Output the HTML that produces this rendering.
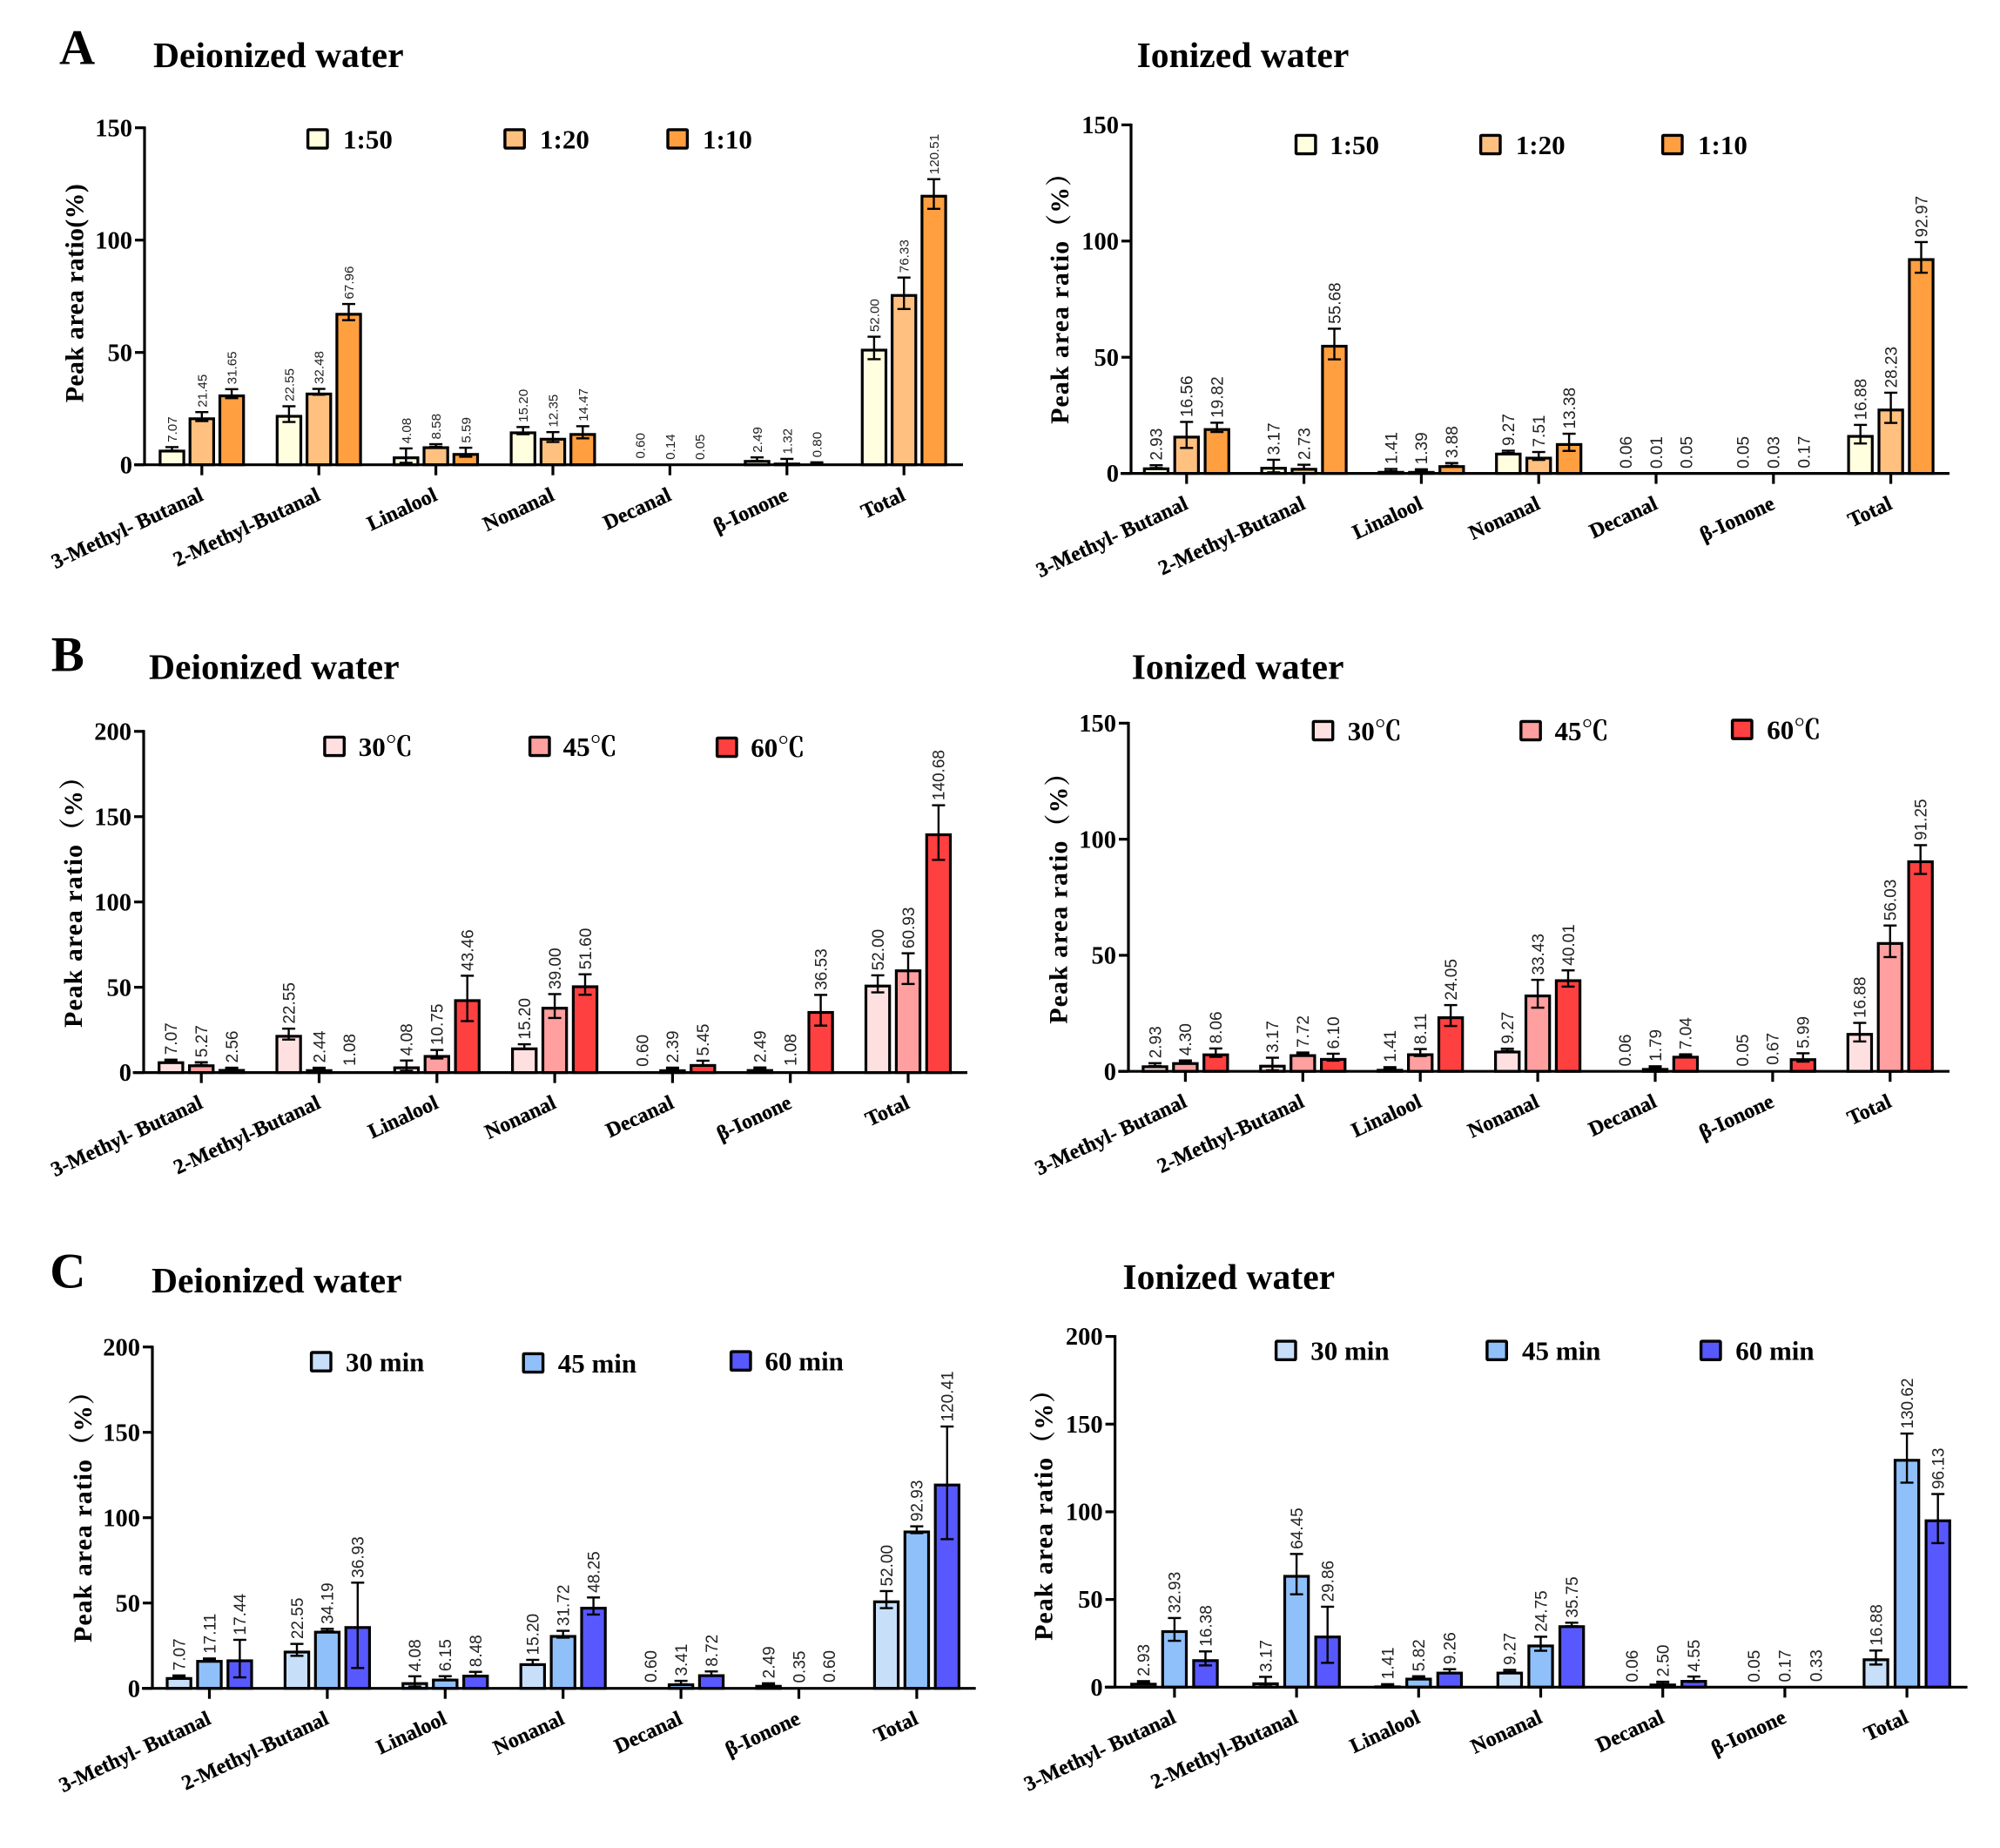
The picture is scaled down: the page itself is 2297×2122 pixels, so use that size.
<!DOCTYPE html>
<html lang="en">
<head>
<meta charset="utf-8">
<title>Peak area ratio charts</title>
<style>
html,body{margin:0;padding:0;background:#fff;}
svg{display:block;position:absolute;left:0;top:0;}
text{font-family:"Liberation Serif","Noto Serif CJK SC",serif;}
</style>
</head>
<body>
<svg id="figure" xmlns="http://www.w3.org/2000/svg" width="2297" height="2122" viewBox="0 0 2297 2122">
<rect x="0" y="0" width="2297" height="2122" fill="#ffffff"/>
<text x="68" y="73.7" font-size="57" font-weight="bold">A</text>
<text x="58.7" y="770.6" font-size="57" font-weight="bold">B</text>
<text x="57.2" y="1478.3" font-size="57" font-weight="bold">C</text>
</svg>
<script>
const categories = ['3-Methyl- Butanal','2-Methyl-Butanal','Linalool','Nonanal','Decanal','β-Ionone','Total'];
const ticks150 = [0,50,100,150];
const ticks200 = [0,50,100,150,200];
const legendRatio = ['1:50','1:20','1:10'];
const legendTemp = ['30℃','45℃','60℃'];
const legendTime = ['30 min','45 min','60 min'];
const colorsRatio = ['#ffffe0','#ffc080','#ff9f40'];
const colorsTemp = ['#ffe0e0','#ff9f9f','#ff4040'];
const colorsTime = ['#c8dffa','#90c0fa','#5858ff'];

const aDeionLow = [7.07,22.55,4.08,15.20,0.60,2.49,52.00];
const aDeionMid = [21.45,32.48,8.58,12.35,0.14,1.32,76.33];
const aDeionHigh = [31.65,67.96,5.59,14.47,0.05,0.80,120.51];
const aDeionLowErr = [0.8,3.5,3.2,1.6,0,0.8,5];
const aDeionMidErr = [2,1.3,0.6,2.2,0,1.3,7];
const aDeionHighErr = [2,3.6,2,2.7,0,0.3,6.6];

const aIonLow = [2.93,3.17,1.41,9.27,0.06,0.05,16.88];
const aIonMid = [16.56,2.73,1.39,7.51,0.01,0.03,28.23];
const aIonHigh = [19.82,55.68,3.88,13.38,0.05,0.17,92.97];
const aIonLowErr = [0.6,2.7,0.5,0.5,0,0,4];
const aIonMidErr = [5.6,1,0.4,1.7,0,0,6.5];
const aIonHighErr = [2,6.6,0.6,3.7,0,0,6.6];

const bDeionLow = [7.07,22.55,4.08,15.20,0.60,2.49,52.00];
const bDeionMid = [5.27,2.44,10.75,39.00,2.39,1.08,60.93];
const bDeionHigh = [2.56,1.08,43.46,51.60,5.45,36.53,140.68];
const bDeionLowErr = [0.5,3.2,3,1.4,0,0.5,5];
const bDeionMidErr = [0.8,0.4,2.5,7,0.5,0,9];
const bDeionHighErr = [0.3,0,13.3,6,1.5,9,16];

const bIonLow = [2.93,3.17,1.41,9.27,0.06,0.05,16.88];
const bIonMid = [4.30,7.72,8.11,33.43,1.79,0.67,56.03];
const bIonHigh = [8.06,6.10,24.05,40.01,7.04,5.99,91.25];
const bIonLowErr = [0.6,2.7,0.4,0.5,0,0,4];
const bIonMidErr = [0.4,0.4,1.5,6,0.4,0,6.8];
const bIonHighErr = [1.8,1.5,4.5,3.5,0.3,1.8,6.2];

const cDeionLow = [7.07,22.55,4.08,15.20,0.60,2.49,52.00];
const cDeionMid = [17.11,34.19,6.15,31.72,3.41,0.35,92.93];
const cDeionHigh = [17.44,36.93,8.48,48.25,8.72,0.60,120.41];
const cDeionLowErr = [0.5,3.5,3,1.5,0,0.5,5];
const cDeionMidErr = [0.4,0.7,1,2,1,0,2];
const cDeionHighErr = [11,25,1.2,5,1.2,0,33];

const cIonLow = [2.93,3.17,1.41,9.27,0.06,0.05,16.88];
const cIonMid = [32.93,64.45,5.82,24.75,2.50,0.17,130.62];
const cIonHigh = [16.38,29.86,9.26,35.75,4.55,0.33,96.13];
const cIonLowErr = [0.5,2.7,0.3,0.6,0,0,4];
const cIonMidErr = [6.5,11.5,0.4,4,0.6,0,14];
const cIonHighErr = [4,16,1,1,1.5,0,14];

const panels = [
 {id:'a-deionized',title:'Deionized water',tx:176,ty:76.8,yTitle:'Peak area ratio(%)',ytx:95.4,yty:462.3,ls:0.3,
  axisX:166,top:146.7,base:533.7,x0:231.8,step:134.4,barStep:34.3,lineL:154,lineR:1106,max:150,ticks:ticks150,labelSize:15.2,
  series:[aDeionLow,aDeionMid,aDeionHigh],errs:[aDeionLowErr,aDeionMidErr,aDeionHighErr],colors:colorsRatio,names:legendRatio,
  legend:[{sx:352,tx:394,cy:159.5},{sx:578.3,tx:620,cy:159.5},{sx:765.4,tx:807,cy:159.5}]},
 {id:'a-ionized',title:'Ionized water',tx:1305.6,ty:76.8,yTitle:'Peak area ratio（%）',ytx:1227,yty:486.9,ls:1,
  axisX:1299,top:143.4,base:543.6,x0:1362.8,step:134.8,barStep:34.9,lineL:1287,lineR:2239,max:150,ticks:ticks150,labelSize:19,
  series:[aIonLow,aIonMid,aIonHigh],errs:[aIonLowErr,aIonMidErr,aIonHighErr],colors:colorsRatio,names:legendRatio,
  legend:[{sx:1486.9,tx:1527.2,cy:166},{sx:1699,tx:1740.8,cy:166},{sx:1908,tx:1950,cy:166}]},
 {id:'b-deionized',title:'Deionized water',tx:171,ty:779.5,yTitle:'Peak area ratio（%）',ytx:94,yty:1180,ls:1,
  axisX:165,top:839.8,base:1231.6,x0:231.2,step:135.3,barStep:34.9,lineL:152.6,lineR:1111,max:200,ticks:ticks200,labelSize:19,
  series:[bDeionLow,bDeionMid,bDeionHigh],errs:[bDeionLowErr,bDeionMidErr,bDeionHighErr],colors:colorsTemp,names:legendTemp,
  legend:[{sx:371.3,tx:411.7,cy:857},{sx:607,tx:646.6,cy:857},{sx:822,tx:862.3,cy:858}]},
 {id:'b-ionized',title:'Ionized water',tx:1299.7,ty:779.5,yTitle:'Peak area ratio（%）',ytx:1225.6,yty:1175.7,ls:1,
  axisX:1296,top:830.4,base:1230.2,x0:1361.4,step:134.9,barStep:34.9,lineL:1284.3,lineR:2239,max:150,ticks:ticks150,labelSize:19,
  series:[bIonLow,bIonMid,bIonHigh],errs:[bIonLowErr,bIonMidErr,bIonHighErr],colors:colorsTemp,names:legendTemp,
  legend:[{sx:1506.7,tx:1547.8,cy:839},{sx:1745.2,tx:1785.5,cy:839},{sx:1988,tx:2029.2,cy:837.6}]},
 {id:'c-deionized',title:'Deionized water',tx:174,ty:1483.9,yTitle:'Peak area ratio（%）',ytx:105,yty:1886,ls:1,
  axisX:175,top:1546.7,base:1938.7,x0:240.5,step:135.4,barStep:34.9,lineL:163,lineR:1120.7,max:200,ticks:ticks200,labelSize:19,
  series:[cDeionLow,cDeionMid,cDeionHigh],errs:[cDeionLowErr,cDeionMidErr,cDeionHighErr],colors:colorsTime,names:legendTime,
  legend:[{sx:356,tx:397,cy:1563.6},{sx:599.6,tx:640.7,cy:1565},{sx:838,tx:878.5,cy:1562.7}]},
 {id:'c-ionized',title:'Ionized water',tx:1289.4,ty:1480.2,yTitle:'Peak area ratio（%）',ytx:1208.7,yty:1883.9,ls:1,
  axisX:1280.6,top:1534.6,base:1937.3,x0:1348.9,step:140.2,barStep:35.6,lineL:1268.9,lineR:2259.6,max:200,ticks:ticks200,labelSize:19,
  series:[cIonLow,cIonMid,cIonHigh],errs:[cIonLowErr,cIonMidErr,cIonHighErr],colors:colorsTime,names:legendTime,
  legend:[{sx:1464,tx:1505.2,cy:1550.7},{sx:1706.3,tx:1748,cy:1550.7},{sx:1952,tx:1993.2,cy:1550.7}]}
];

const NS = 'http://www.w3.org/2000/svg';
const svg = document.getElementById('figure');

function make(tag, parent, props, content) {
  const el = document.createElementNS(NS, tag);
  for (const k in props) el.setAttribute(k, props[k]);
  if (content !== undefined) el.textContent = content;
  parent.appendChild(el);
  return el;
}
function strokeLine(parent, x1, y1, x2, y2, w) {
  return make('line', parent, {x1:x1, y1:y1, x2:x2, y2:y2, stroke:'#000', 'stroke-width':w});
}
function slug(s) {
  return s.toLowerCase().replace(/[^a-z0-9]+/g, '-').replace(/^-|-$/g, '');
}

panels.forEach(function (p) {
  const yScale = function (v) { return p.base - v / p.max * (p.base - p.top); };
  const xCat = function (i) { return p.x0 + i * p.step; };
  const xBar = function (i, s) { return xCat(i) + (s - 1) * p.barStep; };

  const g = make('g', svg, {});
  
  

  const title = make('text', g, {x:p.tx, y:p.ty, 'font-size':41.6, 'font-weight':'bold'}, p.title);
  
  

  const yTitle = make('text', g, {
    transform:'translate(' + p.ytx + ',' + p.yty + ') rotate(-90)',
    'font-size':30, 'font-weight':'bold', 'letter-spacing':p.ls
  }, p.yTitle);
  
  

  p.series.forEach(function (vals, s) {
    const group = make('g', g, {});
    
    
    vals.forEach(function (v, i) {
      const cx = xBar(i, s);
      const yv = yScale(v);
      const top = Math.min(yv + 2.5, p.base);
      const bar = make('rect', group, {
        x:cx - 13.6, y:top, width:27.2, height:p.base - top,
        fill:p.colors[s], stroke:'#000', 'stroke-width':3.2
      });
      
      

      const e = p.errs[s][i];
      const yHi = yScale(v + e);
      if (e > 0) {
        const yLo = yScale(Math.max(v - e, 0));
        const err = make('g', group, {});
        
        
        strokeLine(err, cx, yHi, cx, yLo, 2.4);
        strokeLine(err, cx - 7.5, yHi, cx + 7.5, yHi, 2.4);
        strokeLine(err, cx - 7.5, yLo, cx + 7.5, yLo, 2.4);
      }
      const lx = cx + p.labelSize * 0.36;
      const ly = Math.min(yHi, yv) - 5.5;
      const label = make('text', group, {
        transform:'translate(' + lx + ',' + ly + ') rotate(-90)',
        'font-size':p.labelSize, fill:'#222', style:'font-family:"Liberation Sans",sans-serif'
      }, v.toFixed(2));
      
      
    });
  });

  const yAxis = make('g', g, {});
  
  
  strokeLine(yAxis, p.axisX, p.top - 1.5, p.axisX, p.base, 3.2);
  p.ticks.forEach(function (t) {
    const y = yScale(t);
    strokeLine(yAxis, p.axisX - 11, y, p.axisX, y, 3.2);
    const tl = make('text', yAxis, {x:p.axisX - 14, y:y + 9.6, 'text-anchor':'end', 'font-size':28.5, 'font-weight':'bold'}, t);
    
    
  });

  const xAxis = make('g', g, {});
  
  
  strokeLine(xAxis, p.lineL, p.base, p.lineR, p.base, 3.2);
  categories.forEach(function (c, i) {
    const x = xCat(i);
    strokeLine(xAxis, x, p.base, x, p.base + 12, 3.2);
    const tl = make('text', xAxis, {
      transform:'translate(' + (x + 3) + ',' + (p.base + 40) + ') rotate(-25)',
      'text-anchor':'end', 'font-size':24, 'font-weight':'bold', stroke:'#000', 'stroke-width':0.3
    }, c);
    
    
  });

  p.legend.forEach(function (l, s) {
    const entry = make('g', g, {});
    
    
    make('rect', entry, {x:l.sx + 1.6, y:l.cy - 10.6, width:22.4, height:21.2, fill:p.colors[s], stroke:'#000', 'stroke-width':3.4, rx:1});
    make('text', entry, {x:l.tx, y:l.cy + 11, 'font-size':31, 'font-weight':'bold'}, p.names[s]);
  });
});
</script>
</body>
</html>
